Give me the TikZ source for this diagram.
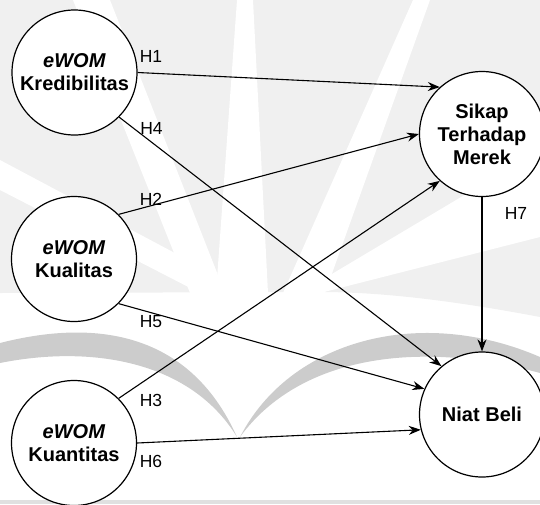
\documentclass[tikz,border=0pt]{standalone}
\usepackage{fontspec}
\setmainfont{Liberation Sans}
\usetikzlibrary{arrows.meta}

\def\d{1pt}
\tikzset{
	kreis/.style={draw,circle,line width=1.2pt,fill=white,minimum size=125pt,inner sep=0pt,align=center,
		font=\fontsize{20}{23}\selectfont\bfseries},
	hlabel/.style={inner sep=0pt,font=\fontsize{17.5}{20}\selectfont},
	pfeil/.style={->,line width=1.1pt}
}
\def\kreis#1#2#3#4{\node[kreis] (#1) at (#2,#3) {#4};}
\def\hyp#1#2#3#4{\node[hlabel] (#1) at (#3,#4) {#2};}
\def\strahl#1#2#3#4{\fill[white] #1--#2--#3--#4--cycle;}

\begin{document}
\begin{tikzpicture}[x=\d,y=-\d,>={Stealth[length=12pt,width=9pt]}]
\useasboundingbox (0,0) rectangle (540,504);

\fill[black!6] (0,0)--(540,0)--(540,317) .. controls (450,300) and (380,292) .. (320,292)--(0,293)--cycle;
\strahl{(237,0)}{(253,0)}{(268,293)}{(216,293)}
\strahl{(413,0)}{(430,0)}{(325,293)}{(283,293)}
\strahl{(0,160)}{(0,190)}{(200,293)}{(250,293)}
\strahl{(73,0)}{(110,0)}{(225,293)}{(190,293)}
\strahl{(540,150)}{(540,237)}{(320,293)}{(300,293)}
\fill[black!20] (0,343) .. controls (90,320) and (188,328) .. (237,437)
	.. controls (190,360) and (90,345) .. (0,363)--cycle;
\fill[black!20] (240,437) .. controls (290,340) and (420,305) .. (540,357)
	--(540,373) .. controls (420,340) and (300,355) .. (240,437)--cycle;
\fill[black!12] (0,500) rectangle (540,504);

\kreis{kred}{74.5}{72.5}{\textit{eWOM}\\Kredibilitas}
\kreis{kual}{74}{259}{\textit{eWOM}\\Kualitas}
\kreis{kuan}{74}{443}{\textit{eWOM}\\Kuantitas}
\kreis{sikap}{482}{134}{Sikap\\Terhadap\\Merek}
\kreis{niat}{482}{414.5}{Niat Beli}

\draw[pfeil] (kred.east)--(sikap.132);
\draw[pfeil] (kual.45)--(sikap.west);
\draw[pfeil] (kuan.45)--(sikap.228);
\draw[pfeil] (kred.-45)--(niat.130);
\draw[pfeil] (kual.-45)--(niat.156);
\draw[pfeil] (kuan.east)--(niat.194);
\draw[pfeil] (sikap.south)--(niat.north);

\hyp{h1}{H1}{151}{56}
\hyp{h2}{H2}{151}{199}
\hyp{h3}{H3}{151}{400}
\hyp{h4}{H4}{151.5}{128.5}
\hyp{h5}{H5}{151}{322}
\hyp{h6}{H6}{151}{461}
\hyp{h7}{H7}{516}{213}

\end{tikzpicture}
\end{document}
